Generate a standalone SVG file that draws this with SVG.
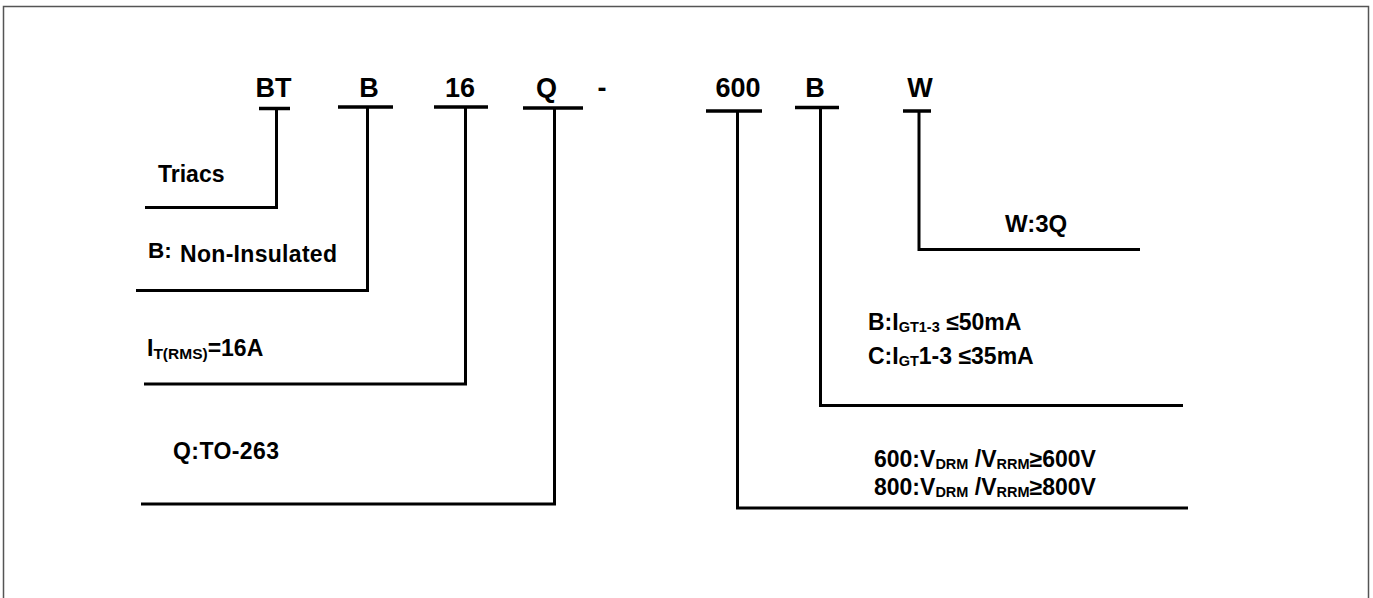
<svg xmlns="http://www.w3.org/2000/svg" width="1373" height="598" viewBox="0 0 1373 598">
<style>
.ln{stroke:#000;stroke-width:3;fill:none;stroke-linecap:butt;stroke-linejoin:miter}
.bar{stroke:#000;stroke-width:3.5;fill:none}
.t{font-family:"Liberation Sans",Arial,sans-serif;font-weight:bold;fill:#000}
.code{font-size:27px;text-anchor:middle}
.lbl{font-size:23px}
.rl{font-size:23px}
.sb{font-size:14.5px}
</style>
<rect x="3.5" y="6.5" width="1365" height="600" fill="#fff" stroke="#555" stroke-width="1.5"/>
<g id="connectors">
<line class="bar" x1="259" y1="108.5" x2="290" y2="108.5"/>
<polyline class="ln" points="276.5,108.5 276.5,207.5 145,207.5"/>
<line class="bar" x1="338" y1="107" x2="393" y2="107"/>
<polyline class="ln" points="367.5,107 367.5,290.5 136,290.5"/>
<line class="bar" x1="434" y1="107" x2="488" y2="107"/>
<polyline class="ln" points="465.5,107 465.5,384 144,384"/>
<line class="bar" x1="523" y1="108" x2="583" y2="108"/>
<polyline class="ln" points="554.5,108 554.5,504 141,504"/>
<line class="bar" x1="706" y1="111" x2="762" y2="111"/>
<polyline class="ln" points="737.5,111 737.5,508 1188,508"/>
<line class="bar" x1="795" y1="107.5" x2="839" y2="107.5"/>
<polyline class="ln" points="820.5,107.5 820.5,405.5 1183,405.5"/>
<line class="bar" x1="903" y1="111" x2="931" y2="111"/>
<polyline class="ln" points="919,111 919,249.5 1140,249.5"/>
</g>
<g id="code-BT"><text class="t code" x="273.5" y="97">BT</text></g>
<g id="code-B"><text class="t code" x="369" y="97">B</text></g>
<g id="code-16"><text class="t code" x="460" y="97">16</text></g>
<g id="code-Q"><text class="t code" x="546.5" y="97">Q</text></g>
<g id="code-dash"><text class="t code" x="602" y="97">-</text></g>
<g id="code-600"><text class="t code" x="738" y="97">600</text></g>
<g id="code-B2"><text class="t code" x="815" y="97">B</text></g>
<g id="code-W"><text class="t code" x="920" y="97">W</text></g>
<g id="label-triacs"><text class="t lbl" x="158" y="182">Triacs</text></g>
<g id="label-noninsulated"><text class="t" x="148" y="258" font-size="22.5">B:</text><text class="t lbl" x="180" y="262" textLength="157">Non-Insulated</text></g>
<g id="label-current"><text class="t lbl" x="147" y="356">I<tspan font-size="15.5" dy="3">T(RMS)</tspan><tspan dy="-3">=16A</tspan></text></g>
<g id="label-package"><text class="t lbl" x="173" y="459" textLength="106">Q:TO-263</text></g>
<g id="label-w"><text class="t" x="1005" y="232" font-size="24">W:3Q</text></g>
<g id="label-gate"><text class="t rl" x="868" y="330">B:I<tspan class="sb" dy="2">GT1-3</tspan><tspan dy="-2"> ≤50mA</tspan></text>
<text class="t rl" x="868" y="364">C:I<tspan class="sb" dy="2">GT</tspan><tspan dy="-2">1-3 ≤35mA</tspan></text></g>
<g id="label-voltage"><text class="t rl" x="874" y="467">600:V<tspan class="sb" dy="2">DRM</tspan><tspan dy="-2"> /V</tspan><tspan class="sb" dy="2">RRM</tspan><tspan dy="-2">≥600V</tspan></text>
<text class="t rl" x="874" y="495">800:V<tspan class="sb" dy="2">DRM</tspan><tspan dy="-2"> /V</tspan><tspan class="sb" dy="2">RRM</tspan><tspan dy="-2">≥800V</tspan></text></g>
</svg>
